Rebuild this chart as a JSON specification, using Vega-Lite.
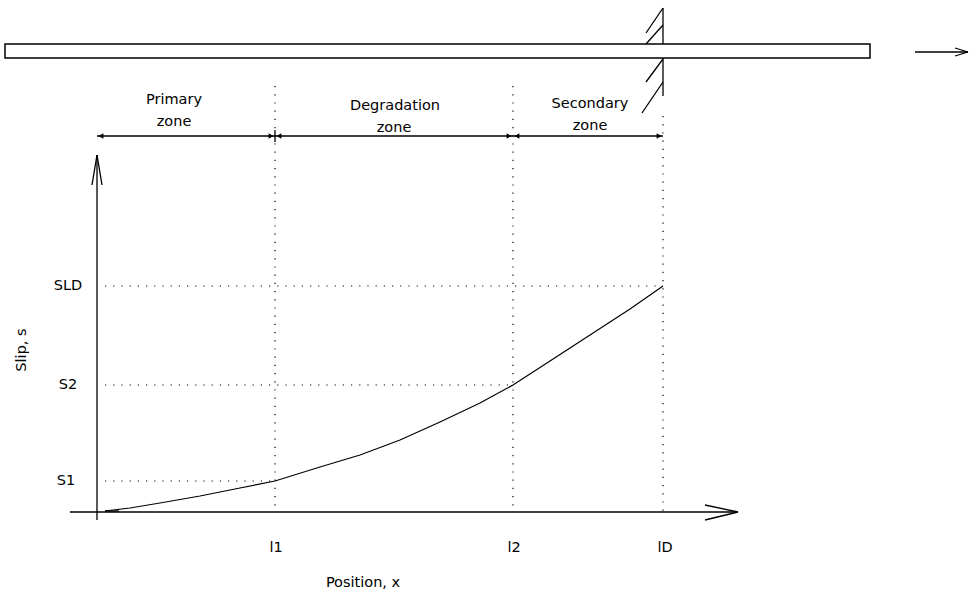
{
  "$schema": "https://vega.github.io/schema/vega-lite/v6.json",
  "width": 969,
  "height": 593,
  "padding": 0,
  "autosize": {"type": "fit", "contains": "padding"},
  "background": "white",
  "config": {"view": {"stroke": null}},
  "datasets": {
    "bar": [{"x": -92, "x2": 773, "y": 454, "y2": 468}],
    "solid": [
      {"x": 566, "y": 504, "x2": 566, "y2": 468},
      {"x": 566, "y": 454, "x2": 566, "y2": 416},
      {"x": 566, "y": 504, "x2": 549, "y2": 479},
      {"x": 566, "y": 487, "x2": 549, "y2": 468},
      {"x": 566, "y": 453, "x2": 549, "y2": 430},
      {"x": 566, "y": 430, "x2": 545, "y2": 399},
      {"x": 818, "y": 460, "x2": 871, "y2": 460},
      {"x": 871, "y": 460, "x2": 858, "y2": 464},
      {"x": 871, "y": 460, "x2": 858, "y2": 456},
      {"x": 0, "y": -8, "x2": 0, "y2": 357},
      {"x": 0, "y": 357, "x2": -5, "y2": 327},
      {"x": 0, "y": 357, "x2": 5, "y2": 327},
      {"x": -27, "y": 0, "x2": 641, "y2": 0},
      {"x": 641, "y": 0, "x2": 608, "y2": 7},
      {"x": 641, "y": 0, "x2": 608, "y2": -8},
      {"x": 0, "y": 376, "x2": 566, "y2": 376},
      {"x": 178, "y": 370, "x2": 178, "y2": 382},
      {"x": 8, "y": 1, "x2": 22, "y2": 1}
    ],
    "dotted": [
      {"x": 178, "y": 426, "x2": 178, "y2": 0},
      {"x": 416, "y": 426, "x2": 416, "y2": 0},
      {"x": 566, "y": 396, "x2": 566, "y2": 0},
      {"x": 8, "y": 226, "x2": 566, "y2": 226},
      {"x": 8, "y": 127, "x2": 416, "y2": 127},
      {"x": 8, "y": 31, "x2": 178, "y2": 31}
    ],
    "curve": [
      {"x": 8, "y": 1}, {"x": 33, "y": 4}, {"x": 63, "y": 9}, {"x": 103, "y": 16},
      {"x": 143, "y": 24}, {"x": 178, "y": 31}, {"x": 223, "y": 45}, {"x": 263, "y": 57},
      {"x": 303, "y": 72}, {"x": 343, "y": 90}, {"x": 383, "y": 109}, {"x": 416, "y": 127},
      {"x": 453, "y": 151}, {"x": 493, "y": 177}, {"x": 533, "y": 203}, {"x": 566, "y": 226}
    ],
    "headsLeft": [{"x": 4, "y": 376}, {"x": 182, "y": 376}, {"x": 420, "y": 376}],
    "headsRight": [{"x": 174, "y": 376}, {"x": 412, "y": 376}, {"x": 562, "y": 376}],
    "labels": [
      {"x": 77, "y": 412, "text": "Primary"},
      {"x": 77, "y": 390, "text": "zone"},
      {"x": 298, "y": 406, "text": "Degradation"},
      {"x": 297, "y": 384, "text": "zone"},
      {"x": 493, "y": 408, "text": "Secondary"},
      {"x": 493, "y": 386, "text": "zone"},
      {"x": -29, "y": 226, "text": "SLD"},
      {"x": -29, "y": 127, "text": "S2"},
      {"x": -31, "y": 31, "text": "S1"},
      {"x": 179, "y": -36, "text": "l1"},
      {"x": 417, "y": -36, "text": "l2"},
      {"x": 568, "y": -36, "text": "lD"},
      {"x": 266, "y": -71, "text": "Position, x"}
    ],
    "ytitle": [{"x": -75, "y": 162, "text": "Slip, s"}]
  },
  "resolve": {"scale": {"x": "shared", "y": "shared"}},
  "layer": [
    {
      "data": {"name": "bar"},
      "mark": {"type": "rect", "fill": "white", "stroke": "black", "strokeWidth": 1.5},
      "encoding": {
        "x": {"field": "x", "type": "quantitative", "scale": {"domain": [-97, 872], "nice": false, "zero": false}, "axis": null},
        "x2": {"field": "x2"},
        "y": {"field": "y", "type": "quantitative", "scale": {"domain": [-81, 512], "nice": false, "zero": false}, "axis": null},
        "y2": {"field": "y2"}
      }
    },
    {
      "data": {"name": "solid"},
      "mark": {"type": "rule", "color": "black", "strokeWidth": 1.3},
      "encoding": {
        "x": {"field": "x", "type": "quantitative", "axis": null},
        "x2": {"field": "x2"},
        "y": {"field": "y", "type": "quantitative", "axis": null},
        "y2": {"field": "y2"}
      }
    },
    {
      "data": {"name": "dotted"},
      "mark": {"type": "rule", "color": "black", "strokeWidth": 1.2, "strokeDash": [1.2, 7]},
      "encoding": {
        "x": {"field": "x", "type": "quantitative", "axis": null},
        "x2": {"field": "x2"},
        "y": {"field": "y", "type": "quantitative", "axis": null},
        "y2": {"field": "y2"}
      }
    },
    {
      "data": {"name": "curve"},
      "mark": {"type": "line", "color": "black", "strokeWidth": 1.2},
      "encoding": {
        "x": {"field": "x", "type": "quantitative", "axis": null},
        "y": {"field": "y", "type": "quantitative", "axis": null}
      }
    },
    {
      "data": {"name": "headsLeft"},
      "mark": {"type": "point", "shape": "triangle-left", "filled": true, "color": "black", "size": 30, "opacity": 1},
      "encoding": {
        "x": {"field": "x", "type": "quantitative", "axis": null},
        "y": {"field": "y", "type": "quantitative", "axis": null}
      }
    },
    {
      "data": {"name": "headsRight"},
      "mark": {"type": "point", "shape": "triangle-right", "filled": true, "color": "black", "size": 30, "opacity": 1},
      "encoding": {
        "x": {"field": "x", "type": "quantitative", "axis": null},
        "y": {"field": "y", "type": "quantitative", "axis": null}
      }
    },
    {
      "data": {"name": "labels"},
      "mark": {"type": "text", "font": "DejaVu Sans", "fontSize": 14.5, "color": "black", "align": "center", "baseline": "middle"},
      "encoding": {
        "x": {"field": "x", "type": "quantitative", "axis": null},
        "y": {"field": "y", "type": "quantitative", "axis": null},
        "text": {"field": "text"}
      }
    },
    {
      "data": {"name": "ytitle"},
      "mark": {"type": "text", "font": "DejaVu Sans", "fontSize": 14.5, "color": "black", "align": "center", "baseline": "middle", "angle": 270},
      "encoding": {
        "x": {"field": "x", "type": "quantitative", "axis": null},
        "y": {"field": "y", "type": "quantitative", "axis": null},
        "text": {"field": "text"}
      }
    }
  ]
}
